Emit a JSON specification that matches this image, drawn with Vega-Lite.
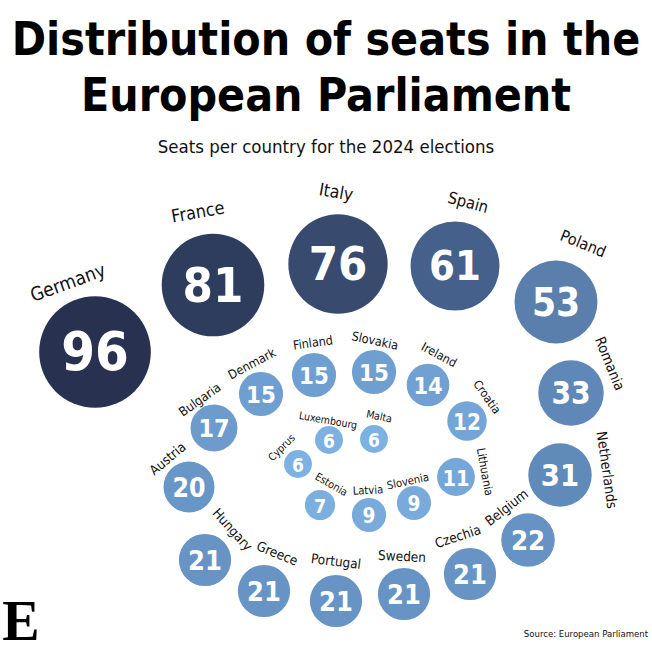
{
  "$schema": "https://vega.github.io/schema/vega-lite/v6.json",
  "width": 652,
  "height": 492,
  "autosize": "none",
  "padding": {"top": 160, "left": 0, "right": 0, "bottom": 0},
  "background": "white",
  "config": {"view": {"stroke": null}},
  "title": {
    "text": ["Distribution of seats in the", "European Parliament"],
    "subtitle": "Seats per country for the 2024 elections",
    "font": "DejaVu Sans Condensed, DejaVu Sans",
    "fontWeight": "bold",
    "fontSize": 46,
    "lineHeight": 56,
    "color": "#000000",
    "subtitleFont": "DejaVu Sans Condensed, DejaVu Sans",
    "subtitleFontSize": 18.5,
    "subtitleColor": "#111111",
    "subtitlePadding": 17,
    "anchor": "middle",
    "offset": 3
  },
  "data": {
    "values": [
      {"country": "Germany", "seats": 96, "cx": 95, "cy": 352, "lx": 68, "ly": 283, "la": -20},
      {"country": "France", "seats": 81, "cx": 213, "cy": 285, "lx": 198, "ly": 213, "la": -10},
      {"country": "Italy", "seats": 76, "cx": 338, "cy": 264, "lx": 336, "ly": 193, "la": 10},
      {"country": "Spain", "seats": 61, "cx": 455, "cy": 266, "lx": 468, "ly": 203, "la": 15},
      {"country": "Poland", "seats": 53, "cx": 556, "cy": 302, "lx": 583, "ly": 244, "la": 22},
      {"country": "Romania", "seats": 33, "cx": 571, "cy": 393, "lx": 609, "ly": 364, "la": 68},
      {"country": "Netherlands", "seats": 31, "cx": 560, "cy": 475, "lx": 606, "ly": 470, "la": 82},
      {"country": "Belgium", "seats": 22, "cx": 528, "cy": 540, "lx": 507, "ly": 508, "la": -38},
      {"country": "Czechia", "seats": 21, "cx": 470, "cy": 574, "lx": 458, "ly": 537, "la": -18},
      {"country": "Sweden", "seats": 21, "cx": 404, "cy": 594, "lx": 402, "ly": 557, "la": 3},
      {"country": "Portugal", "seats": 21, "cx": 336, "cy": 601, "lx": 336, "ly": 562, "la": 7},
      {"country": "Greece", "seats": 21, "cx": 264, "cy": 591, "lx": 277, "ly": 554, "la": 22},
      {"country": "Hungary", "seats": 21, "cx": 205, "cy": 560, "lx": 232, "ly": 530, "la": 48},
      {"country": "Austria", "seats": 20, "cx": 189, "cy": 487, "lx": 168, "ly": 459, "la": -40},
      {"country": "Bulgaria", "seats": 17, "cx": 214, "cy": 428, "lx": 200, "ly": 400, "la": -35},
      {"country": "Denmark", "seats": 15, "cx": 261, "cy": 394, "lx": 252, "ly": 364, "la": -28},
      {"country": "Finland", "seats": 15, "cx": 314, "cy": 375, "lx": 313, "ly": 343, "la": -8},
      {"country": "Slovakia", "seats": 15, "cx": 374, "cy": 372, "lx": 375, "ly": 341, "la": 12},
      {"country": "Ireland", "seats": 14, "cx": 428, "cy": 385, "lx": 439, "ly": 355, "la": 28},
      {"country": "Croatia", "seats": 12, "cx": 467, "cy": 421, "lx": 487, "ly": 397, "la": 55},
      {"country": "Lithuania", "seats": 11, "cx": 456, "cy": 477, "lx": 484, "ly": 472, "la": 80},
      {"country": "Slovenia", "seats": 9, "cx": 414, "cy": 503, "lx": 408, "ly": 482, "la": -12},
      {"country": "Latvia", "seats": 9, "cx": 369, "cy": 515, "lx": 368, "ly": 491, "la": -3},
      {"country": "Estonia", "seats": 7, "cx": 320, "cy": 505, "lx": 331, "ly": 485, "la": 30},
      {"country": "Cyprus", "seats": 6, "cx": 298, "cy": 464, "lx": 282, "ly": 448, "la": -45},
      {"country": "Luxembourg", "seats": 6, "cx": 329, "cy": 440, "lx": 328, "ly": 421, "la": 10},
      {"country": "Malta", "seats": 6, "cx": 374, "cy": 439, "lx": 379, "ly": 417, "la": 12}
    ]
  },
  "layer": [
    {
      "mark": {"type": "circle", "opacity": 1, "stroke": null},
      "encoding": {
        "x": {"field": "cx", "type": "quantitative", "scale": {"domain": [0, 652], "nice": false, "zero": false}, "axis": null},
        "y": {"field": "cy", "type": "quantitative", "scale": {"domain": [160, 652], "nice": false, "zero": false, "reverse": true}, "axis": null},
        "size": {"field": "seats", "type": "quantitative", "scale": {"type": "linear", "domain": [0, 96], "range": [0, 12470]}, "legend": null},
        "color": {"field": "seats", "type": "quantitative", "scale": {"domain": [6, 21, 33, 53, 61, 76, 81, 96], "range": ["#7cb1e1", "#6794c5", "#5f88b8", "#5a7fac", "#45618b", "#384b6e", "#2e3c5e", "#283250"]}, "legend": null}
      }
    },
    {
      "mark": {"type": "text", "font": "DejaVu Sans Condensed, DejaVu Sans", "fontWeight": "bold", "color": "white", "baseline": "middle", "align": "center", "dy": 2},
      "encoding": {
        "x": {"field": "cx", "type": "quantitative"},
        "y": {"field": "cy", "type": "quantitative"},
        "text": {"field": "seats", "type": "quantitative"},
        "size": {"field": "seats", "type": "quantitative", "scale": {"domain": [6, 21, 96], "range": [19, 27, 54]}, "legend": null}
      }
    },
    {
      "mark": {"type": "text", "font": "DejaVu Sans Condensed, DejaVu Sans", "color": "#111111", "baseline": "middle", "align": "center"},
      "encoding": {
        "x": {"field": "lx", "type": "quantitative"},
        "y": {"field": "ly", "type": "quantitative"},
        "text": {"field": "country", "type": "nominal"},
        "angle": {"field": "la", "type": "quantitative", "scale": null},
        "size": {"field": "seats", "type": "quantitative", "scale": {"domain": [6, 15, 21, 96], "range": [10.5, 12.5, 13.5, 19]}, "legend": null}
      }
    },
    {
      "data": {"values": [{"note": "Source: European Parliament", "nx": 648, "ny": 634}]},
      "mark": {"type": "text", "font": "DejaVu Sans Condensed, DejaVu Sans", "fontSize": 9.5, "color": "#111111", "align": "right", "baseline": "middle"},
      "encoding": {
        "x": {"field": "nx", "type": "quantitative"},
        "y": {"field": "ny", "type": "quantitative"},
        "text": {"field": "note", "type": "nominal"}
      }
    },
    {
      "data": {"values": [{"logo": "E", "nx": 21, "ny": 640}]},
      "mark": {"type": "text", "font": "Liberation Serif", "fontWeight": "bold", "fontSize": 56, "color": "#000000", "align": "center", "baseline": "alphabetic"},
      "encoding": {
        "x": {"field": "nx", "type": "quantitative"},
        "y": {"field": "ny", "type": "quantitative"},
        "text": {"field": "logo", "type": "nominal"}
      }
    }
  ],
  "resolve": {"scale": {"size": "independent"}}
}
